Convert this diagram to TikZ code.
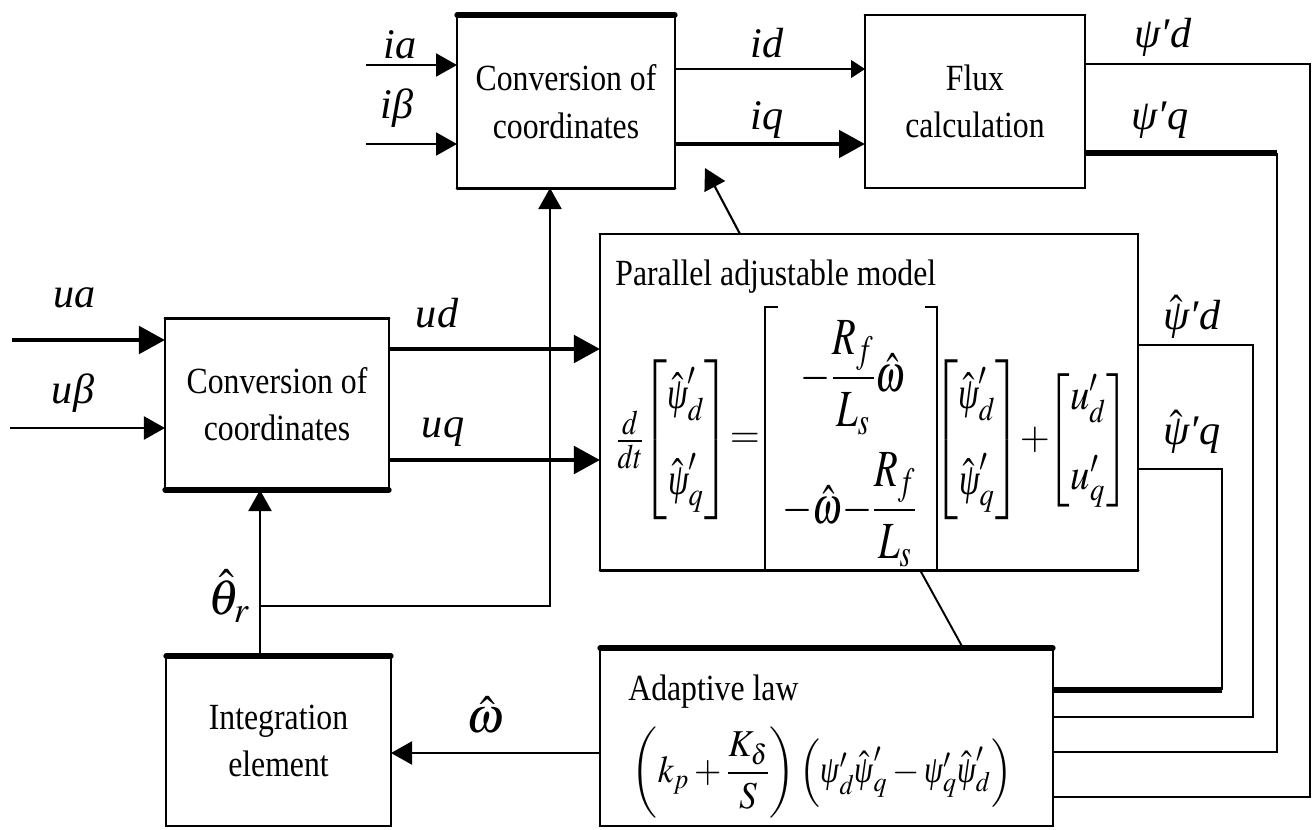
\documentclass[tikz,border=0pt]{standalone}
\usepackage{amsmath}
\usepackage{graphicx}
\usepackage{mathptmx}
\usepackage{fontspec}
\setmainfont{Liberation Serif}[FakeStretch=0.86]
\newfontfamily\lblfont{Liberation Serif}
\usepackage{tikz}
\usetikzlibrary{positioning,arrows.meta,calc}

\newcommand{\psit}{\text{\itshape ψ}}

\tikzset{
  blk/.style={draw, line width=1.1pt, inner sep=0pt, outer sep=0pt, align=center,
    font=\fontsize{21}{27}\selectfont},
  heavyedge/.style={line width=3pt, line cap=round},
  midedge/.style={line width=1.7pt, line cap=round},
  sig/.style={line width=1.2pt, -{Triangle[length=4.2mm,width=4.6mm]}},
  fatsig/.style={line width=2.8pt, -{Triangle[length=5.2mm,width=5.4mm]}},
  hairsig/.style={line width=0.6pt, -{Triangle[length=2.8mm,width=3.6mm]}},
  wire/.style={line width=1.1pt},
  fatwire/.style={line width=3pt},
  lbl/.style={font=\lblfont\itshape\fontsize{24}{28}\selectfont, inner sep=0pt},
  eq/.style={font=\fontsize{22}{26}\selectfont, inner sep=0pt},
  ttl/.style={font=\fontsize{21}{24}\selectfont, inner sep=0pt, anchor=west}
}

\begin{document}
\begin{tikzpicture}[x=0.2mm, y=-0.2mm]
  \useasboundingbox (0,0) rectangle (1313,829);

  % blocks
  \node[blk, minimum width=43.6mm, minimum height=34.6mm] (conv1) at (566,101.5) {Conversion of\\coordinates};
  \node[blk, minimum width=44mm, minimum height=34.6mm] (flux) at (975,101.5) {Flux\\calculation};
  \node[blk, minimum width=44.8mm, minimum height=34.4mm] (conv2) at (277,404) {Conversion of\\coordinates};
  \node[blk, minimum width=107.6mm, minimum height=67.2mm] (model) at (869,402) {};
  \node[blk, minimum width=45mm, minimum height=34mm] (integ) at (278.5,741) {Integration\\element};
  \node[blk, minimum width=90.6mm, minimum height=35.6mm] (adapt) at (826.5,737) {};

  % heavy edges
  \draw[heavyedge] (conv1.north west) -- (conv1.north east);
  \draw[midedge] (conv1.south west) -- (conv1.south east);
  \draw[midedge] (flux.north west) -- (flux.north east);
  \draw[midedge] (conv2.north west) -- (conv2.north east);
  \draw[heavyedge] (conv2.south west) -- (conv2.south east);
  \draw[heavyedge] (integ.north west) -- (integ.north east);
  \draw[heavyedge] (adapt.north west) -- (adapt.north east);
  \draw[midedge] (model.north west) -- (model.north east);
  \draw[midedge] (model.south west) -- (model.south east);

  % inputs
  \coordinate (ia in) at (366,65);
  \coordinate (ib in) at (366,144);
  \coordinate (ua in) at (12,340);
  \coordinate (ub in) at (10,428);
  \draw[sig] (ia in) -- (ia in -| conv1.west);
  \draw[sig] (ib in) -- (ib in -| conv1.west);
  \draw[fatsig] (ua in) -- (ua in -| conv2.west);
  \draw[sig] (ub in) -- (ub in -| conv2.west);

  % top chain
  \draw[hairsig] (conv1.east |- 0,69) -- (flux.west |- 0,69);
  \draw[fatsig] (conv1.east |- 0,144) -- (flux.west |- 0,144);

  % u to model
  \draw[fatsig] (conv2.east |- 0,349) -- (model.west |- 0,349);
  \draw[fatsig] (conv2.east |- 0,460) -- (model.west |- 0,460);

  % angle feedback
  \coordinate (thbr) at (260,606);
  \draw[sig] (thbr |- integ.north) -- (thbr |- conv2.south);
  \draw[sig] (thbr) -| ([xshift=-3.2mm]conv1.south);

  % model links
  \draw[sig] ([xshift=-25.8mm]model.north) -- ++(-35,-66);
  \draw[wire] ([xshift=10.2mm]model.south) -- ([xshift=27.3mm]adapt.north);

  % speed estimate
  \draw[sig] (adapt.west |- 0,753) -- (integ.east |- 0,753);

  % feedback wiring
  \coordinate (rq) at (1222,690);
  \coordinate (rd) at (1253,717);
  \coordinate (fq) at (1277,752);
  \coordinate (fd) at (1310,797);
  \draw[wire] (model.east |- 0,469) -| (rq);
  \draw[fatwire] (rq) -- (adapt.east |- rq);
  \draw[wire] (model.east |- 0,345) -| (rd) -- (adapt.east |- rd);
  \draw[fatwire] (flux.east |- 0,153) -- (fq |- 0,153);
  \draw[wire] (fq |- 0,153) -- (fq) -- (adapt.east |- fq);
  \draw[wire] (flux.east |- 0,64) -| (fd) -- (adapt.east |- fd);

  % labels
  \node[lbl] (l ia) at (400,45) {ia};
  \node[lbl] (l ib) at (397,108) {iβ};
  \node[lbl] (l id) at (767,43) {id};
  \node[lbl] (l iq) at (767,120) {iq};
  \node[lbl] (l pd) at (1163,37) {ψ′d};
  \node[lbl] (l pq) at (1160,120) {ψ′q};
  \node[lbl] (l ua) at (75,298) {ua};
  \node[lbl] (l ub) at (73,393) {uβ};
  \node[lbl] (l ud) at (437,313) {ud};
  \node[lbl] (l uq) at (443,432) {uq};
  \node[lbl] (l hpd) at (1192,317) {$\hat{\psit}$′d};
  \node[lbl] (l hpq) at (1192,432) {$\hat{\psit}$′q};
  \node[lbl, font=\fontsize{28}{30}\selectfont] (l th) at (229,596) {$\hat{\theta}_r$};
  \node[lbl, font=\fontsize{28}{30}\selectfont] (l om) at (485,715) {$\hat{\omega}$};

  % model equation
  \node[ttl] (mtitle) at (615,277) {Parallel adjustable model};
  \node[eq] (ddt) at (630,440) {\scalebox{1}[1.2]{$\frac{d}{dt}$}};
  \node[eq] (psv) at (686,440) {\scalebox{1}[1.15]{$\begin{bmatrix}\hat{\psit}'_d\\[14pt]\hat{\psit}'_q\end{bmatrix}$}};
  \node[eq] (eqs) at (745,440) {$=$};
  \draw[wire] (778,307) -| (765,570);
  \draw[wire] (925,307) -| (937,570);
  \node[eq] (row1) at (853,378) {\scalebox{1}[1.35]{$-\dfrac{R_f}{L_s}\hat{\omega}$}};
  \node[eq] (row2) at (850,510) {\scalebox{1}[1.35]{$-\hat{\omega}{-}\dfrac{R_f}{L_s}$}};
  \node[eq] (psv2) at (977,440) {\scalebox{1}[1.15]{$\begin{bmatrix}\hat{\psit}'_d\\[14pt]\hat{\psit}'_q\end{bmatrix}$}};
  \node[eq] (pls) at (1035,440) {$+$};
  \node[eq] (uv) at (1088,440) {\scalebox{1}[1.15]{$\begin{bmatrix}u'_d\\[14pt]u'_q\end{bmatrix}$}};

  % adaptive law
  \node[ttl] (atitle) at (628,692) {Adaptive law};
  \node[eq, font=\fontsize{20}{24}\selectfont] (alaw) at (822,773)
    {\scalebox{1}[1.08]{$\left(k_p+\dfrac{K_\delta}{S}\right)\left(\psit'_d\hat{\psit}'_q-\psit'_q\hat{\psit}'_d\right)$}};
\end{tikzpicture}
\end{document}
